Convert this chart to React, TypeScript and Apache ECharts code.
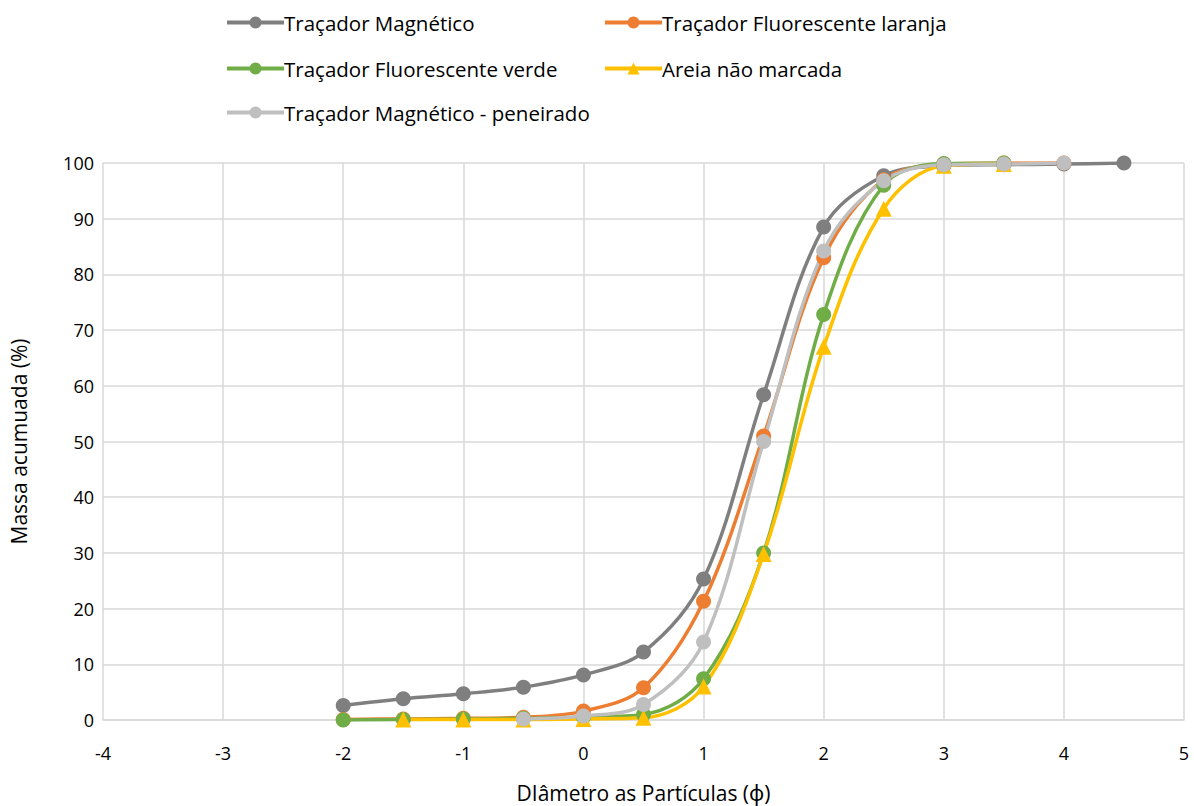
import React, { useEffect, useRef } from "react";
import * as echarts from "echarts";

const seriesNames = [
  "Traçador Magnético",
  "Traçador Fluorescente laranja",
  "Traçador Fluorescente verde",
  "Areia não marcada",
  "Traçador Magnético - peneirado",
];
const colors = ["#7F7F7F", "#ED7D31", "#70AD47", "#FFC000", "#BFBFBF"];

const xMagnetico = [-2, -1.5, -1, -0.5, 0, 0.5, 1, 1.5, 2, 2.5, 3, 3.5, 4, 4.5];
const yMagnetico = [2.6, 3.8, 4.7, 5.9, 8.1, 12.2, 25.3, 58.4, 88.5, 97.7, 99.5, 99.7, 99.8, 100];

const xLaranja = [-2, -1.5, -1, -0.5, 0, 0.5, 1, 1.5, 2, 2.5, 3, 3.5, 4];
const yLaranja = [0.1, 0.2, 0.3, 0.5, 1.6, 5.8, 21.3, 51, 83, 97, 99.8, 100, 100];

const xVerde = [-2, -1.5, -1, -0.5, 0, 0.5, 1, 1.5, 2, 2.5, 3, 3.5];
const yVerde = [0, 0.1, 0.2, 0.3, 0.5, 1.0, 7.4, 30, 72.8, 96, 99.9, 100];

const xAreia = [-1.5, -1, -0.5, 0, 0.5, 1, 1.5, 2, 2.5, 3, 3.5];
const yAreia = [0.1, 0.1, 0.1, 0.2, 0.4, 6, 29.8, 67, 91.8, 99.5, 99.8];

const xPeneirado = [-0.5, 0, 0.5, 1, 1.5, 2, 2.5, 3, 3.5, 4];
const yPeneirado = [0.2, 0.7, 2.8, 14, 50, 84.2, 96.8, 99.7, 99.8, 100];

const xs = [xMagnetico, xLaranja, xVerde, xAreia, xPeneirado];
const ys = [yMagnetico, yLaranja, yVerde, yAreia, yPeneirado];
const symbols = ["circle", "circle", "circle", "triangle", "circle"];

const legendPos = [
  { left: 225, top: 12 },
  { left: 603, top: 12 },
  { left: 225, top: 58 },
  { left: 603, top: 58 },
  { left: 225, top: 102 },
];

const FONT = "'Open Sans', 'Noto Sans', sans-serif";

export default function App() {
  const ref = useRef<HTMLDivElement>(null);
  useEffect(() => {
    if (!ref.current) return;
    const chart = echarts.init(ref.current, undefined, { renderer: "svg" });
    const series = seriesNames.map((name, i) => ({
      name,
      type: "line",
      smooth: 0.35,
      data: xs[i].map((x, j) => [x, ys[i][j]]),
      symbol: symbols[i],
      symbolSize: symbols[i] === "triangle" ? 16 : 15,
      showSymbol: true,
      lineStyle: { color: colors[i], width: 3.5 },
      itemStyle: { color: colors[i], borderWidth: 0 },
      emphasis: { disabled: true },
    }));
    chart.setOption({
      animation: false,
      legend: seriesNames.map((name, i) => ({
        data: [name],
        left: legendPos[i].left,
        top: legendPos[i].top,
        itemWidth: 57,
        itemHeight: 15,
        itemGap: 0,
        padding: 0,
        selectedMode: false,
        lineStyle: { width: 4 },
        textStyle: { fontFamily: FONT, fontSize: 20.5, color: "#000000", padding: [0, 0, 0, -5] },
      })),
      grid: { left: 103, right: 10, top: 163, bottom: 86, containLabel: false, outerBoundsMode: "none" },
      xAxis: {
        type: "value",
        min: -4,
        max: 5,
        interval: 1,
        name: "DIâmetro as Partículas (ϕ)",
        nameLocation: "middle",
        nameGap: 62,
        nameTextStyle: { fontFamily: FONT, fontSize: 21, color: "#000000" },
        axisLine: { show: true, lineStyle: { color: "#D9D9D9", width: 1.5 } },
        axisTick: { show: false },
        axisLabel: { fontFamily: FONT, fontSize: 18, color: "#000000", margin: 24 },
        splitLine: { show: true, lineStyle: { color: "#D9D9D9", width: 1.5 } },
      },
      yAxis: {
        type: "value",
        min: 0,
        max: 100,
        interval: 10,
        name: "Massa acumuada (%)",
        nameLocation: "middle",
        nameGap: 74,
        nameTextStyle: { fontFamily: FONT, fontSize: 21, color: "#000000" },
        axisLine: { show: false },
        axisTick: { show: false },
        axisLabel: { fontFamily: FONT, fontSize: 18, color: "#000000", margin: 9 },
        splitLine: { show: true, lineStyle: { color: "#D9D9D9", width: 1.5 } },
      },
      series,
    });
    return () => chart.dispose();
  }, []);
  return (
    <div
      ref={ref}
      style={{ position: "absolute", left: 0, top: 0, width: 1194, height: 806, background: "#ffffff" }}
    />
  );
}
